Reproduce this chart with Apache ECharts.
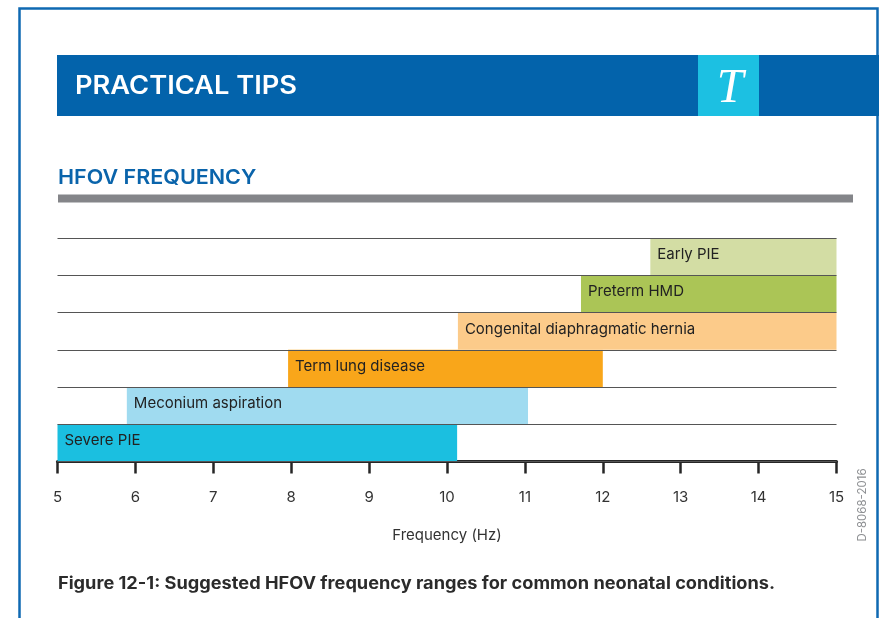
<!DOCTYPE html>
<html>
<head>
<meta charset="utf-8">
<title>HFOV frequency</title>
<script src="https://cdn.jsdelivr.net/npm/echarts@6/dist/echarts.min.js"></script>
<style>
  html, body { margin: 0; padding: 0; background: #fff; }
  #chart { width: 883px; height: 618px; }
</style>
</head>
<body>
<div id="chart"></div>
<script>
// bottom row first, category axis goes upward
let conditions = ['Severe PIE', 'Meconium aspiration', 'Term lung disease', 'Congenital diaphragmatic hernia', 'Preterm HMD', 'Early PIE'];
let freqLow = [5, 5.89, 7.96, 10.14, 11.72, 12.61];
let freqHigh = [10.13, 11.04, 12, 15, 15, 15];
let barColors = ['#1bbfe0', '#a0dbf0', '#f9a61a', '#fccb8a', '#abc556', '#d3dda4'];
let tickValues = [5, 15, 1];

let FONT = 'Inter, "Liberation Sans", sans-serif';
let BLUE = '#0363ab';

let rangeData = [];
for (let i = 0; i < conditions.length; i++) {
    rangeData.push({
        value: freqHigh[i] - freqLow[i],
        itemStyle: { color: barColors[i] }
    });
}

let option = {
    animation: false,
    backgroundColor: '#fff',
    textStyle: { fontFamily: FONT },
    grid: { left: 57.5, right: 46.5, top: 238, bottom: 156.5, containLabel: false },
    xAxis: {
        type: 'value',
        min: tickValues[0],
        max: tickValues[1],
        interval: tickValues[2],
        splitLine: { show: false },
        axisLine: { show: true, onZero: false, lineStyle: { color: '#262626', width: 3 } },
        axisTick: { show: true, length: 12, lineStyle: { color: '#262626', width: 2.5 } },
        axisLabel: { margin: 28, color: '#333', fontSize: 15, fontFamily: FONT, showMinLabel: true, showMaxLabel: true },
        name: 'Frequency (Hz)',
        nameLocation: 'middle',
        nameGap: 66,
        nameTextStyle: { color: '#333', fontSize: 15, fontFamily: FONT }
    },
    yAxis: {
        type: 'category',
        data: conditions,
        z: 5,
        axisLine: { show: false },
        axisTick: { show: false },
        axisLabel: { show: false },
        splitLine: { show: true, interval: 0, lineStyle: { color: '#555', width: 1.2 } }
    },
    series: [
        {
            name: 'offset',
            type: 'bar',
            stack: 'range',
            barWidth: '100%',
            silent: true,
            itemStyle: { color: 'transparent' },
            data: freqLow
        },
        {
            name: 'range',
            type: 'bar',
            stack: 'range',
            barWidth: '100%',
            z: 2,
            data: rangeData,
            label: {
                show: true,
                position: 'insideLeft',
                distance: 7,
                offset: [0, -2],
                color: '#222',
                fontSize: 15,
                fontFamily: FONT,
                formatter: function (p) { return p.name; }
            }
        }
    ],
    graphic: [
        // page frame
        { type: 'rect', z: -1, shape: { x: 19.5, y: 8.5, width: 858, height: 640 }, style: { fill: 'none', stroke: '#0f69b2', lineWidth: 2.5 } },
        // header band
        { type: 'rect', z: 0, shape: { x: 57, y: 55, width: 822, height: 61 }, style: { fill: BLUE } },
        { type: 'rect', z: 1, shape: { x: 698, y: 55, width: 61, height: 61 }, style: { fill: '#1cc0e2' } },
        // scaleX stands in for the wide tracking of the original headings
        { type: 'text', z: 2, x: 75, y: 86, scaleX: 1.09, style: { text: 'PRACTICAL TIPS', fill: '#fff', font: '600 25px ' + FONT, verticalAlign: 'middle' } },
        { type: 'text', z: 2, x: 730, y: 89, style: { text: 'T', fill: '#fff', font: 'italic 48px "Liberation Serif", serif', align: 'center', verticalAlign: 'middle' } },
        { type: 'text', z: 2, x: 58, y: 178, scaleX: 1.05, style: { text: 'HFOV FREQUENCY', fill: '#0a64ab', font: '600 20.5px ' + FONT, verticalAlign: 'middle' } },
        // grey rule below the heading
        { type: 'rect', z: 0, shape: { x: 58, y: 194.5, width: 795, height: 8 }, style: { fill: '#848589' } },
        { type: 'text', z: 2, x: 58, y: 584, scaleX: 1.07, style: { text: 'Figure 12-1: Suggested HFOV frequency ranges for common neonatal conditions.', fill: '#2b2b2b', font: '700 17px ' + FONT, verticalAlign: 'middle' } },
        { type: 'text', z: 2, x: 863, y: 505, rotation: Math.PI / 2, style: { text: 'D-8068-2016', fill: '#8d8f92', font: '11.5px ' + FONT, align: 'center', verticalAlign: 'middle' } }
    ]
};

let chart = echarts.init(document.getElementById('chart'));
chart.setOption(option);
</script>
</body>
</html>
